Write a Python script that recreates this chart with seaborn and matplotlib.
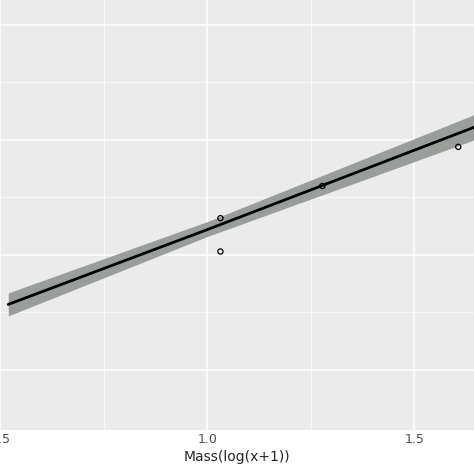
import numpy as np
import matplotlib
matplotlib.use('Agg')
import matplotlib.pyplot as plt
import seaborn as sns

# observed points
mass = [1.032, 1.032, 1.278, 1.606]
resp = [2.32, 2.03, 2.60, 2.94]
# fitted line and confidence band
fit_x = [0.52, 1.0, 1.644]
fit_y = [1.57, 2.22, 3.11]
band_lo = [1.47, 2.16, 3.00]
band_hi = [1.67, 2.29, 3.22]

sns.set_theme(style='darkgrid', rc={'axes.facecolor': '#EBEBEB', 'grid.color': 'white'})
plt.rcParams['font.family'] = ['DejaVu Sans']

fig = plt.figure(figsize=(4.74, 4.74), dpi=100)
ax = fig.add_axes([0, 0.093, 1, 0.907])
ax.fill_between(fit_x, band_lo, band_hi, color='#9A9E9A', lw=0)
sns.lineplot(x=fit_x, y=fit_y, color='black', lw=2, ax=ax)
sns.scatterplot(x=mass, y=resp, s=14, facecolor='none', edgecolor='black', linewidth=0.9, ax=ax)

ax.set_xlim(0.52, 1.644)
ax.set_ylim((370 - 430) / 115 + 1, 370 / 115 + 1)
ax.set_xticks([0.5, 1.0, 1.5])
ax.set_xticklabels(['0.5', '1.0', '1.5'], fontsize=9, color='#4D4D4D')
ax.set_yticks([1, 2, 3, 4])
ax.set_yticklabels([])
ax.set_xticks([0.75, 1.25], minor=True)
ax.set_yticks([1.5, 2.5, 3.5], minor=True)
ax.grid(which='minor', color='white', lw=0.5)
ax.grid(which='major', color='white', lw=1.1)
ax.tick_params(axis='x', pad=2, length=0)
ax.tick_params(axis='y', length=0)
ax.set_xlabel('Mass(log(x+1))', fontsize=10, labelpad=3)
for s in ax.spines.values():
    s.set_visible(False)
fig.savefig('out.png', dpi=100)
